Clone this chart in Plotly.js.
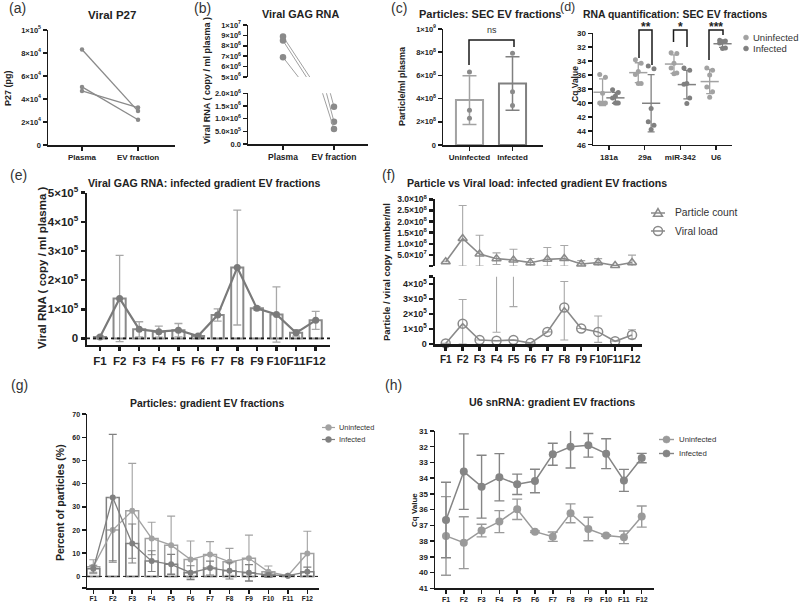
<!DOCTYPE html>
<html><head><meta charset="utf-8">
<script src="https://cdn.plot.ly/plotly-3.0.1.min.js"></script>
<style>html,body{margin:0;padding:0;background:#fff}#chart{width:800px;height:602px}</style>
</head><body><div id="chart"></div>
<script>
// ================= DATA =================
// (a) Viral P27 (pg), paired samples
const aCats = ['Plasma', 'EV fraction'];
const aPlasma = [83000, 50500, 47000];
const aEV = [29500, 22000, 32500];

// (b) Viral GAG RNA (copy / ml plasma), paired samples
const bCats = ['Plasma', 'EV fraction'];
const bPlasma = [8.9e6, 8.5e6, 6.9e6];
const bEV = [1.47e6, 0.88e6, 0.59e6];

// (c) Particles: SEC EV fractions
const cCats = ['Uninfected', 'Infected'];
const cUninfPts = [6.3e8, 3.0e8, 2.3e8];
const cInfPts = [7.9e8, 4.6e8, 3.4e8];
const cMean = [3.87e8, 5.3e8];
const cSD = [2.1e8, 2.3e8];

// (d) RNA quantification (Cq)
const dCats = ['181a', '29a', 'miR-342', 'U6'];
const d181aUninf = [35.9, 36.3, 38.6, 40.0, 40.0, 40.0];
const d181aInf = [38.1, 38.5, 39.0, 39.3, 40.0, 40.0, 40.0];
const d29aUninf = [33.8, 34.3, 35.5, 35.9, 37.2, 37.2];
const d29aInf = [34.7, 35.1, 40.8, 42.7, 43.2, 43.8];
const dMiR342Uninf = [32.8, 32.9, 34.3, 35.0, 35.7, 35.8];
const dMiR342Inf = [35.0, 35.3, 37.2, 37.3, 39.3, 40.1];
const dU6Uninf = [35.0, 35.3, 36.0, 37.7, 38.4, 39.2];
const dU6Inf = [31.0, 31.1, 31.2, 31.4, 32.1, 32.2];
const dSig = ['', '**', '*', '***'];

// (e) Viral GAG RNA: infected gradient EV fractions
const fractions = ['F1','F2','F3','F4','F5','F6','F7','F8','F9','F10','F11','F12'];
const eMean = [5e3, 1.37e5, 3.1e4, 2.3e4, 2.8e4, 8e3, 8.0e4, 2.43e5, 1.03e5, 8.2e4, 1.9e4, 6.2e4];
const eSD = [3e3, 1.48e5, 2.6e4, 1.9e4, 2.3e4, 4e3, 2.1e4, 1.97e5, 5e3, 9.5e4, 1.1e4, 3.1e4];

// (f) Particle vs viral load
const fParticles = [1.9e7, 1.24e8, 5.4e7, 3.3e7, 2.7e7, 1.5e7, 3.0e7, 3.4e7, 9e6, 1.6e7, 2e6, 1.6e7];
const fPartErrPlus = [0, 1.48e8, 8.4e7, 2.6e7, 4.8e7, 1.9e7, 5.3e7, 5.8e7, 1.5e7, 1.7e7, 0, 3.3e7];
const fPartErrMinus = [0, 1.24e8, 5.4e7, 2.6e7, 2.7e7, 1.5e7, 3.0e7, 3.4e7, 9e6, 1.6e7, 0, 1.6e7];
const fViral = [4e3, 1.36e5, 2.7e4, 2.2e4, 2.7e4, 6e3, 8.1e4, 2.44e5, 1.04e5, 8.1e4, 1.8e4, 6.1e4];
const fViralErrPlus = [0, 1.62e5, 0, 0, 0, 0, 0, 1.74e5, 0, 1.06e5, 0, 3.4e4];
const fViralErrMinus = [0, 1.36e5, 0, 0, 0, 0, 0, 2.17e5, 0, 7.0e4, 0, 2.6e4];
const fWhiskerLow = [null, null, null, 7.9e4, 2.5e5, null, null, null, null, null, null, null];
const fWhiskerHigh = [null, null, null, 6e5, 6e5, null, null, null, null, null, null, null];

// (g) Particles: gradient EV fractions (% of particles)
const gUninf = [4.2, 20, 28.3, 16.4, 13.5, 7.3, 9.5, 6.3, 7.8, 2.0, 0.3, 9.9];
const gUninfSD = [3, 14, 20.5, 7, 12.5, 8, 5.5, 5.8, 10, 2.5, 0.3, 9.6];
const gInf = [3.3, 34, 14.2, 6.6, 5.2, 1.6, 3.6, 2.4, 1.6, 0.6, 0.3, 2.0];
const gInfSD = [1.5, 27.3, 8.4, 4.5, 4.3, 3, 3, 3.5, 3.5, 0.8, 0.2, 2];

// (h) U6 snRNA: gradient EV fractions (Cq)
const hUninf = [37.67, 38.1, 37.33, 36.76, 35.98, 37.4, 37.72, 36.23, 37.23, 37.65, 37.76, 36.44];
const hUninfSD = [2.5, 1.65, 0.4, 0.7, 0.65, 0.05, 0.3, 0.6, 0.75, 0.05, 0.4, 0.67];
const hInf = [36.66, 33.58, 34.54, 33.94, 34.39, 34.18, 32.48, 32.0, 31.91, 32.44, 34.14, 32.72];
const hInfSD = [2.4, 2.4, 2.0, 1.5, 0.65, 0.75, 0.7, 1.35, 0.75, 0.95, 0.7, 0.3];

// ================= HELPERS =================
const W = 800, H = 602;
const px = x => x / W;
const py = y => 1 - y / H;
const hdom = (a, b) => [px(a), px(b)];
const vdom = (top, bottom) => [py(bottom), py(top)];
const FF = '"Liberation Sans", Arial, sans-serif';
const BLK = '#1a1a1a';
const C_UN = '#a2a2a2', C_IN = '#808080', C_MID = '#8a8a8a', C_ERR = '#a8a8a8';
const sci = (m, e) => m + '×10<sup>' + e + '</sup>';
const mean = a => a.reduce((s, v) => s + v, 0) / a.length;
const sd = a => { const m = mean(a); return Math.sqrt(a.reduce((s, v) => s + (v - m) * (v - m), 0) / (a.length - 1)); };

function axis(o, fsize, lw) {
  return Object.assign({
    showline: true, linecolor: BLK, linewidth: lw || 1.5, ticks: 'outside', ticklen: 4,
    tickwidth: lw || 1.5, tickcolor: BLK, showgrid: false, zeroline: false, fixedrange: true, tickangle: 0,
    tickfont: { family: FF, size: fsize || 8, color: '#222', weight: 'bold' }
  }, o);
}
function ann(text, x, y, o) {
  return Object.assign({ text, xref: 'paper', yref: 'paper', x: px(x), y: py(y), showarrow: false,
    xanchor: 'center', yanchor: 'middle', font: { family: FF, size: 11, color: '#222' } }, o || {});
}
function bold(size) { return { family: FF, size, color: '#222', weight: 'bold' }; }
function reg(size) { return { family: FF, size, color: '#333' }; }
function pline(x0, y0, x1, y1, color, w, dash) {
  return { type: 'line', xref: 'paper', yref: 'paper', x0: px(x0), y0: py(y0), x1: px(x1), y1: py(y1),
    line: { color, width: w, dash: dash || 'solid' } };
}
function pcircle(cx, cy, r, fill, line, w) {
  return { type: 'circle', xref: 'paper', yref: 'paper', x0: px(cx - r), x1: px(cx + r), y0: py(cy + r), y1: py(cy - r),
    fillcolor: fill, line: { color: line, width: w } };
}
function ppath(pts, color, w, fill, close) {
  let d = pts.map((p, i) => (i ? 'L' : 'M') + px(p[0]).toFixed(5) + ',' + py(p[1]).toFixed(5)).join(' ');
  if (close) d += ' Z';
  return { type: 'path', xref: 'paper', yref: 'paper', path: d, line: { color, width: w }, fillcolor: fill || 'rgba(0,0,0,0)' };
}

const traces = [];
const shapes = [];
const annotations = [];

// ================= (a) =================
for (let i = 0; i < aPlasma.length; i++) {
  traces.push({ type: 'scatter', mode: 'lines+markers', x: aCats, y: [aPlasma[i], aEV[i]], xaxis: 'x', yaxis: 'y',
    line: { color: C_MID, width: 1.3 }, marker: { color: C_MID, size: 4.5 }, showlegend: false, cliponaxis: false });
}
// ================= (b) =================
for (let i = 0; i < bPlasma.length; i++) {
  const common = { type: 'scatter', mode: 'lines+markers', x: bCats, y: [bPlasma[i], bEV[i]],
    line: { color: '#a0a0a0', width: 1 }, marker: { color: C_MID, size: 6.5 }, showlegend: false };
  traces.push(Object.assign({ xaxis: 'x2', yaxis: 'y2' }, common));
  traces.push(Object.assign({ xaxis: 'x2', yaxis: 'y3' }, common));
}
// ================= (c) =================
const cPts = [cUninfPts, cInfPts];
const cCol = [C_UN, C_IN];
for (let g = 0; g < 2; g++) {
  traces.push({ type: 'bar', x: [cCats[g]], y: [cMean[g]], xaxis: 'x3', yaxis: 'y4', width: 0.63,
    marker: { color: 'rgba(255,255,255,0)', line: { color: cCol[g], width: 2 } },
    error_y: { type: 'data', array: [cSD[g]], color: cCol[g], thickness: 1.5, width: 7 }, showlegend: false });
  traces.push({ type: 'scatter', mode: 'markers', x: cPts[g].map(() => cCats[g]), y: cPts[g], xaxis: 'x3', yaxis: 'y4',
    marker: { color: C_MID, size: 5 }, showlegend: false });
}
// ================= (d) =================
const dUninfAll = [d181aUninf, d29aUninf, dMiR342Uninf, dU6Uninf];
const dInfAll = [d181aInf, d29aInf, dMiR342Inf, dU6Inf];
const jit = [-0.08, 0.08, 0, -0.08, 0.08, 0, 0.04];
const dOff = 0.18;
[[dUninfAll, -dOff, C_UN], [dInfAll, dOff, C_IN]].forEach(([groups, off, col]) => {
  const xs = [], ys = [];
  groups.forEach((vals, ci) => vals.forEach((v, j) => { xs.push(ci + off + jit[j % jit.length]); ys.push(v); }));
  traces.push({ type: 'scatter', mode: 'markers', x: xs, y: ys, xaxis: 'x4', yaxis: 'y5',
    marker: { color: col, size: 5 }, showlegend: false, cliponaxis: false });
  traces.push({ type: 'scatter', mode: 'markers', x: groups.map((_, ci) => ci + off), y: groups.map(mean),
    xaxis: 'x4', yaxis: 'y5', marker: { symbol: 'line-ew-open', size: 13, color: col, line: { color: col, width: 1.5 } },
    error_y: { type: 'data', array: groups.map(sd), color: col, thickness: 1.3, width: 3.5 }, showlegend: false, cliponaxis: false });
});
// ================= (e) =================
traces.push({ type: 'bar', x: fractions, y: eMean, xaxis: 'x5', yaxis: 'y6', width: 0.62,
  marker: { color: '#ffffff', line: { color: C_MID, width: 2 } }, showlegend: false });
traces.push({ type: 'scatter', mode: 'lines+markers', x: fractions, y: eMean, xaxis: 'x5', yaxis: 'y6',
  line: { color: '#7a7a7a', width: 2.2 }, marker: { color: '#7a7a7a', size: 7 },
  error_y: { type: 'data', array: eSD, color: C_ERR, thickness: 1.3, width: 4 }, showlegend: false });
shapes.push({ type: 'line', xref: 'x5 domain', x0: 0, x1: 1, yref: 'y6', y0: 0, y1: 0, line: { color: BLK, width: 1.6, dash: 'dot' } });
// ================= (f) =================
traces.push({ type: 'scatter', mode: 'lines+markers', x: fractions, y: fParticles, xaxis: 'x6', yaxis: 'y7',
  line: { color: C_MID, width: 1.6 }, marker: { symbol: 'triangle-up-open', size: 8, color: C_MID, line: { width: 1.5 } },
  error_y: { type: 'data', symmetric: false, array: fPartErrPlus, arrayminus: fPartErrMinus, color: C_ERR, thickness: 1.1, width: 4 },
  showlegend: false, cliponaxis: false });
traces.push({ type: 'scatter', mode: 'lines+markers', x: fractions, y: fViral, xaxis: 'x6', yaxis: 'y8',
  line: { color: C_MID, width: 1.6 }, marker: { symbol: 'circle-open', size: 9, color: C_MID, line: { width: 1.5 } },
  error_y: { type: 'data', symmetric: false, array: fViralErrPlus, arrayminus: fViralErrMinus, color: C_ERR, thickness: 1.1, width: 4 },
  showlegend: false, cliponaxis: false });
traces.push({ type: 'scatter', mode: 'markers', x: fractions, y: fWhiskerLow, xaxis: 'x6', yaxis: 'y8',
  marker: { size: 1, opacity: 0 },
  error_y: { type: 'data', symmetric: false, array: fWhiskerHigh.map((h, i) => h === null ? null : h - fWhiskerLow[i]), arrayminus: fWhiskerLow.map(v => v === null ? null : 0), color: C_ERR, thickness: 1.1, width: 4 },
  showlegend: false });
// ================= (g) =================
[[gUninf, gUninfSD, C_UN], [gInf, gInfSD, C_IN]].forEach(([vals, sds, col]) => {
  traces.push({ type: 'bar', x: fractions, y: vals, xaxis: 'x7', yaxis: 'y9', width: 0.66,
    marker: { color: 'rgba(255,255,255,0)', line: { color: col, width: 1.5 } }, showlegend: false });
});
[[gUninf, gUninfSD, C_UN], [gInf, gInfSD, C_IN]].forEach(([vals, sds, col]) => {
  traces.push({ type: 'scatter', mode: 'lines+markers', x: fractions, y: vals, xaxis: 'x7', yaxis: 'y9',
    line: { color: col, width: 1.3 }, marker: { color: col, size: 6 },
    error_y: { type: 'data', array: sds, color: col, thickness: 1.1, width: 4 }, showlegend: false });
});
shapes.push({ type: 'line', xref: 'x7 domain', x0: 0, x1: 1, yref: 'y9', y0: 0, y1: 0, line: { color: BLK, width: 1, dash: 'dot' } });
// ================= (h) =================
[[hUninf, hUninfSD, '#9a9a9a'], [hInf, hInfSD, '#858585']].forEach(([vals, sds, col]) => {
  traces.push({ type: 'scatter', mode: 'lines+markers', x: fractions, y: vals, xaxis: 'x8', yaxis: 'y10',
    line: { color: col, width: 1.5 }, marker: { color: col, size: 8 },
    error_y: { type: 'data', array: sds, color: col, thickness: 1.4, width: 5 }, showlegend: false, cliponaxis: false });
});

// ================= TEXT / DECOR =================
const lab = { family: FF, size: 14, color: '#333' };
[['(a)', 17, 8], ['(b)', 203, 8], ['(c)', 399, 8], ['(d)', 567, 7], ['(e)', 18, 175], ['(f)', 388, 175], ['(g)', 19, 385], ['(h)', 393, 385]]
  .forEach(([t, x, y]) => annotations.push(ann(t, x, y, { font: t === '(d)' ? { family: FF, size: 12.5, color: '#333' } : lab })));

annotations.push(ann('Viral P27', 112, 15, { font: bold(11.5) }));
annotations.push(ann('Viral GAG RNA', 300, 14, { font: bold(10.8) }));
annotations.push(ann('Particles: SEC EV fractions', 490, 14, { font: bold(11) }));
annotations.push(ann('RNA quantification: SEC EV fractions', 675, 14, { font: bold(10.4) }));
annotations.push(ann('Viral GAG RNA: infected gradient EV fractions', 204, 183, { font: bold(10.6) }));
annotations.push(ann('Particle vs Viral load: infected gradient EV fractions', 537, 183, { font: bold(10.6) }));
annotations.push(ann('Particles: gradient EV fractions', 207, 403, { font: bold(10.4) }));
annotations.push(ann('U6 snRNA: gradient EV fractions', 552, 402, { font: bold(10.7) }));

// y axis titles
annotations.push(ann('P27 (pg)', 8, 88, { textangle: -90, font: bold(9) }));
annotations.push(ann('Viral RNA ( copy / ml plasma )', 207, 80, { textangle: -90, font: bold(9) }));
annotations.push(ann('Particle/ml plasma', 402, 86, { textangle: -90, font: bold(9) }));
annotations.push(ann('Cq Value', 575, 84, { textangle: -90, font: bold(8.5) }));
annotations.push(ann('Viral RNA ( copy / ml plasma )', 42, 268, { textangle: -90, font: bold(11.5) }));
annotations.push(ann('Particle / viral copy number/ml', 386, 272, { textangle: -90, font: bold(9.5) }));
annotations.push(ann('Percent of particles (%)', 60, 503, { textangle: -90, font: bold(10.5) }));
annotations.push(ann('Cq Value', 414, 510, { textangle: -90, font: bold(8) }));

// (c) significance
shapes.push(ppath([[469, 65], [469, 40], [514, 40], [514, 47]], BLK, 1.5));
annotations.push(ann('ns', 492, 30, { font: reg(9) }));
// (d) significance brackets
shapes.push(ppath([[639, 58], [639, 30], [652, 30], [652, 65]], BLK, 1.5));
shapes.push(ppath([[673.5, 42], [673.5, 30], [687, 30], [687, 47]], BLK, 1.5));
shapes.push(ppath([[709, 60], [709, 30], [723, 30], [723, 35]], BLK, 1.5));
annotations.push(ann(dSig[1], 645.5, 27, { font: bold(12) }));
annotations.push(ann(dSig[2], 680.5, 27, { font: bold(12) }));
annotations.push(ann(dSig[3], 716, 27, { font: bold(12) }));

// legends
// (d)
shapes.push(pcircle(746, 37.5, 2.5, C_UN, C_UN, 0.5));
shapes.push(pcircle(746, 48.5, 2.5, C_IN, C_IN, 0.5));
annotations.push(ann('Uninfected', 751, 37.5, { xanchor: 'left', font: reg(9.5) }));
annotations.push(ann('Infected', 751, 48.5, { xanchor: 'left', font: reg(9.5) }));
// (f)
shapes.push(pline(651, 213, 665, 213, C_MID, 1.5));
shapes.push(ppath([[658, 208.5], [662.5, 216.3], [653.5, 216.3]], C_MID, 1.5, null, true));
shapes.push(pline(651, 231, 665, 231, C_MID, 1.5));
shapes.push(pcircle(658, 231, 4.5, 'rgba(0,0,0,0)', C_MID, 1.5));
annotations.push(ann('Particle count', 673, 213, { xanchor: 'left', font: reg(10.3) }));
annotations.push(ann('Viral load', 673, 231, { xanchor: 'left', font: reg(10.3) }));
// (g)
shapes.push(pline(322, 427.5, 335, 427.5, C_UN, 1.2));
shapes.push(pcircle(328.5, 427.5, 3, C_UN, C_UN, 0.5));
shapes.push(pline(322, 439.5, 335, 439.5, C_IN, 1.2));
shapes.push(pcircle(328.5, 439.5, 3, C_IN, C_IN, 0.5));
annotations.push(ann('Uninfected', 337, 427.5, { xanchor: 'left', font: reg(7.4) }));
annotations.push(ann('Infected', 337, 439.5, { xanchor: 'left', font: reg(7.4) }));
// (h)
shapes.push(pline(659, 439.5, 674, 439.5, '#9a9a9a', 1.4));
shapes.push(pcircle(666.5, 439.5, 3.6, '#9a9a9a', '#9a9a9a', 0.5));
shapes.push(pline(659, 453.5, 674, 453.5, '#858585', 1.4));
shapes.push(pcircle(666.5, 453.5, 3.6, '#858585', '#858585', 0.5));
annotations.push(ann('Uninfected', 677, 439.5, { xanchor: 'left', font: reg(7.8) }));
annotations.push(ann('Infected', 677, 453.5, { xanchor: 'left', font: reg(7.8) }));

// ================= LAYOUT =================
const layout = {
  width: W, height: H, autosize: false, margin: { l: 0, r: 0, t: 0, b: 0, pad: 0 },
  paper_bgcolor: '#fff', plot_bgcolor: 'rgba(0,0,0,0)', showlegend: false, barmode: 'overlay',
  font: { family: FF, color: '#222' },
  // (a)
  xaxis: axis({ domain: hdom(48, 175), anchor: 'y', type: 'category', range: [-0.607, 1.66] }, 8),
  yaxis: axis({ domain: vdom(30, 145), anchor: 'x', range: [0, 1e5],
    tickvals: [0, 2e4, 4e4, 6e4, 8e4, 1e5], ticktext: ['0', sci(2, 4), sci(4, 4), sci(6, 4), sci(8, 4), sci(1, 5)] }, 7.5),
  // (b)
  xaxis2: axis({ domain: hdom(248, 368), anchor: 'y3', type: 'category', range: [-0.686, 1.667] }, 8.5),
  yaxis2: axis({ domain: vdom(25, 77), anchor: 'x2', range: [5e6, 1e7],
    tickvals: [5e6, 6e6, 7e6, 8e6, 9e6, 1e7], ticktext: [sci(5, 6), sci(6, 6), sci(7, 6), sci(8, 6), sci(9, 6), sci(1, 7)] }, 7.5),
  yaxis3: axis({ domain: vdom(93.3, 144), anchor: 'x2', range: [0, 2e6],
    tickvals: [0, 5e5, 1e6, 1.5e6, 2e6], ticktext: ['0.0', sci('5.0', 5), sci('1.0', 6), sci('1.5', 6), sci('2.0', 6)] }, 7.5),
  // (c)
  xaxis3: axis({ domain: hdom(443, 543), anchor: 'y4', type: 'category', range: [-0.616, 1.709] }, 8),
  yaxis4: axis({ domain: vdom(29, 145), anchor: 'x3', range: [0, 1e9],
    tickvals: [0, 2e8, 4e8, 6e8, 8e8, 1e9], ticktext: ['0', sci(2, 8), sci(4, 8), sci(6, 8), sci(8, 8), sci(1, 9)] }, 7.5),
  // (d)
  xaxis4: axis({ domain: hdom(593, 732), anchor: 'y5', range: [-0.448, 3.445], tickvals: [0, 1, 2, 3], ticktext: dCats }, 8),
  yaxis5: axis({ domain: vdom(33.3, 144.7), anchor: 'x4', range: [46, 30], tickvals: [30, 32, 34, 36, 38, 40, 42, 44, 46] }, 8),
  // (e)
  xaxis5: axis({ domain: hdom(87, 330), anchor: 'y6', type: 'category', range: [-0.663, 11.73] }, 11.5, 2.5),
  yaxis6: axis({ domain: vdom(192.7, 344.5), anchor: 'x5', range: [-2.1e4, 5e5],
    tickvals: [0, 1e5, 2e5, 3e5, 4e5, 5e5], ticktext: ['0', sci(1, 5), sci(2, 5), sci(3, 5), sci(4, 5), sci(5, 5)] }, 11.5, 2.5),
  // (f)
  xaxis6: axis({ domain: hdom(435, 641.7), anchor: 'y8', type: 'category', range: [-0.632, 11.57] }, 10, 2.5),
  yaxis7: axis({ domain: vdom(199.3, 266), anchor: 'x6', range: [0, 3e8],
    tickvals: [0, 5e7, 1e8, 1.5e8, 2e8, 2.5e8, 3e8], ticktext: ['', sci('5.0', 7), sci('1.0', 8), sci('1.5', 8), sci('2.0', 8), sci('2.5', 8), sci('3.0', 8)] }, 8.5, 2.5),
  yaxis8: axis({ domain: vdom(276.7, 344), anchor: 'x6', range: [0, 4.5e5],
    tickvals: [0, 1e5, 2e5, 3e5, 4e5, 4.5e5], ticktext: ['0', sci(1, 5), sci(2, 5), sci(3, 5), sci(4, 5), ''] }, 9, 2.5),
  // (g)
  xaxis7: axis({ domain: hdom(87, 319), anchor: 'y9', type: 'category', range: [-0.324, 11.6] }, 6.5),
  yaxis9: axis({ domain: vdom(414.2, 588), anchor: 'x7', range: [-5, 70],
    tickvals: [-5, 0, 10, 20, 30, 40, 50, 60, 70], ticktext: ['', '0', '10', '20', '30', '40', '50', '60', '70'] }, 7),
  // (h)
  xaxis8: axis({ domain: hdom(435, 654), anchor: 'y10', type: 'category', range: [-0.618, 11.69] }, 7),
  yaxis10: axis({ domain: vdom(431, 588.3), anchor: 'x8', range: [41, 31], tickvals: [31, 32, 33, 34, 35, 36, 37, 38, 39, 40, 41] }, 8),
  shapes, annotations
};

Plotly.newPlot('chart', traces, layout, { staticPlot: true, displayModeBar: false });
</script>
</body></html>
